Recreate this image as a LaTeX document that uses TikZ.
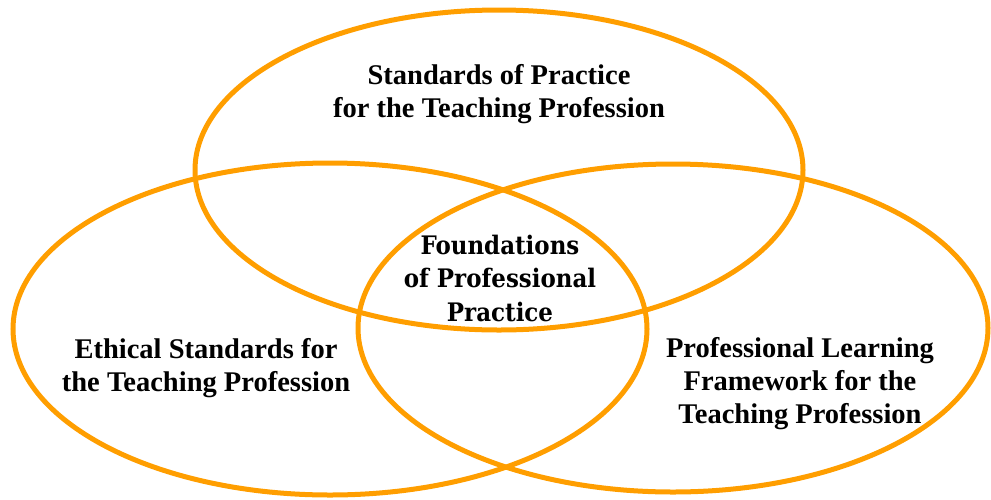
\documentclass[tikz,border=0pt]{standalone}
\usepackage{fontspec}
\setmainfont{Liberation Serif}
\newfontfamily\centerfont{DejaVu Serif Condensed}
\definecolor{vennorange}{RGB}{255,158,0}
\begin{document}
\begin{tikzpicture}[x=1pt,y=-1pt,
  ring/.style={draw=vennorange,line width=5pt},
  lbl/.style={align=center,font=\bfseries\fontsize{28.5}{33}\selectfont,text=black},
  clbl/.style={align=center,font=\centerfont\bfseries\fontsize{25.5}{33.5}\selectfont,text=black}]
\useasboundingbox (0,0) rectangle (991,499);
\draw[ring] (499,170) ellipse [x radius=304,y radius=160];
\draw[ring] (330,329) ellipse [x radius=317,y radius=166];
\draw[ring] (673,328) ellipse [x radius=315,y radius=164];
\node[lbl] (top) at (499,94) {Standards of Practice\\for the Teaching Profession};
\node[clbl] (mid) at (500,278) {Foundations\\of Professional\\Practice};
\node[lbl] (left) at (206,368) {Ethical Standards for\\the Teaching Profession};
\node[lbl] (right) at (800,384) {Professional Learning\\Framework for the\\Teaching Profession};
\end{tikzpicture}
\end{document}
